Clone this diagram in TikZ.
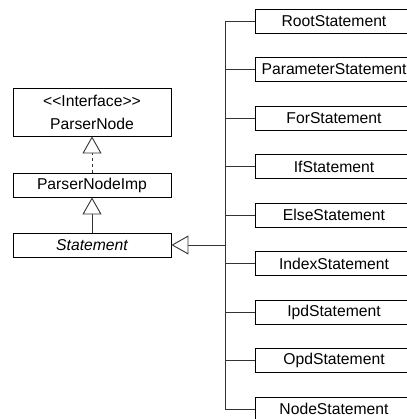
\documentclass[tikz,border=0pt]{standalone}
\usepackage{fontspec}
\setmainfont[Ligatures={NoCommon}]{Liberation Sans}
\usetikzlibrary{arrows.meta}
\begin{document}
\begin{tikzpicture}[x=1pt,y=-1pt,
  box/.style={draw=black,line width=0.9pt,minimum width=158pt,minimum height=24pt,inner sep=0pt,font=\fontsize{15.7}{23}\selectfont,fill=white},
  conn/.style={draw=black!80,line width=0.9pt},
  inh/.style={conn,-{Triangle[open,length=17pt,width=19pt,line width=0.9pt,fill=white]}}]
\useasboundingbox (0,0) rectangle (406,419);
% left column
\node[box,minimum height=48pt,align=center] (pn) at (92,112) {{<}{<}Interface{>}{>}\\ParserNode};
\node[box] (pni) at (92,185) {ParserNodeImp};
\node[box,font=\fontsize{15.7}{23}\selectfont\itshape] (st) at (92,245) {Statement};
% right column
\foreach \n/\t [count=\i from 0] in {r1/RootStatement,r2/ParameterStatement,r3/ForStatement,r4/IfStatement,r5/ElseStatement,r6/IndexStatement,r7/IpdStatement,r8/OpdStatement,r9/NodeStatement}
  \node[box] (\n) at (334,{21+48.5*\i}) {\t};
\coordinate (bus) at (225,245);
\draw[conn] (r1.west -| bus) -- (r9.west -| bus);
\foreach \n in {r1,r2,r3,r4,r5,r6,r7,r8,r9}
  \draw[conn] (\n.west -| bus) -- (\n.west);
\draw[inh] (bus) -- (st.east);
\draw[inh] (st.north) -- (pni.south);
\draw[inh,dash pattern=on 3pt off 3pt] (pni.north) -- (pn.south);
\end{tikzpicture}
\end{document}
